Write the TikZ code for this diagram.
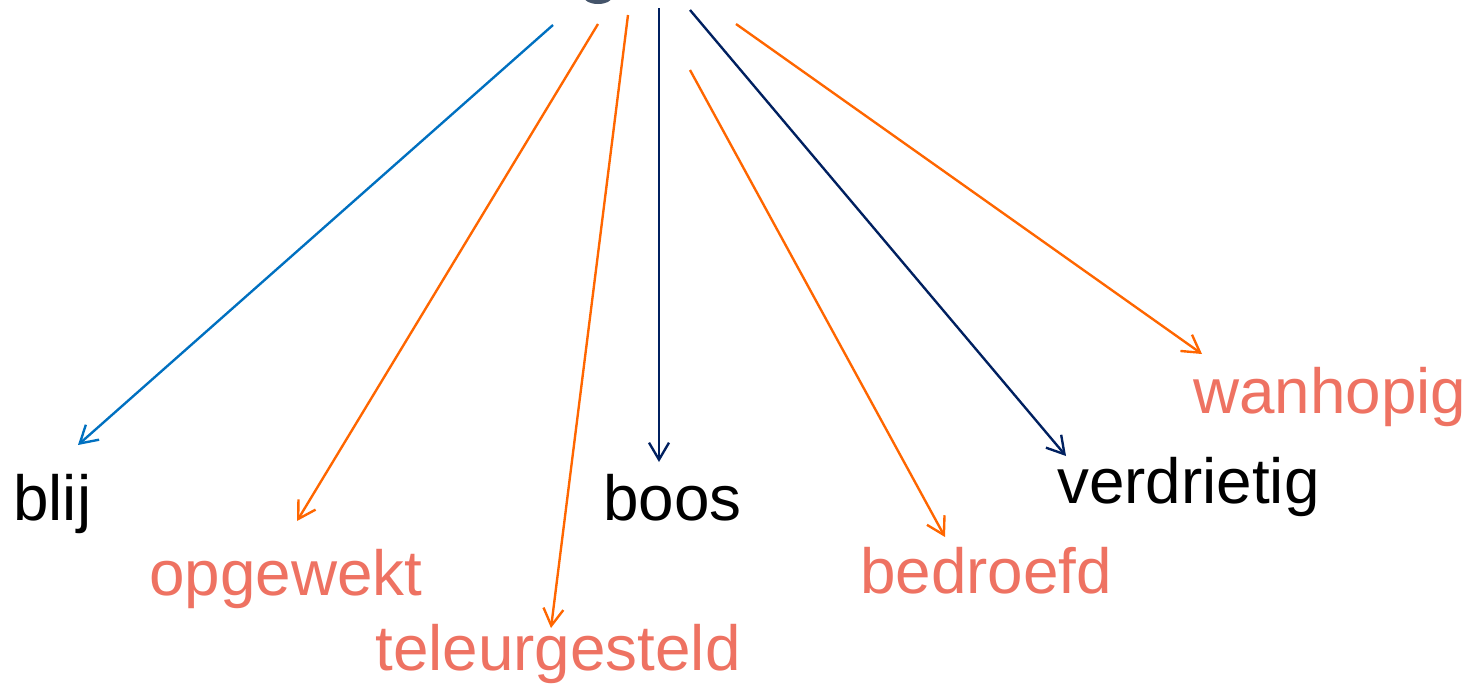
\documentclass[tikz,border=0pt]{standalone}
\usepackage{fontspec}
\setmainfont{Liberation Sans}
\usetikzlibrary{arrows.meta}

\definecolor{lineblue}{HTML}{0070C0}
\definecolor{linenavy}{HTML}{002060}
\definecolor{lineorange}{HTML}{FF6600}
\definecolor{wordsalmon}{HTML}{EE7262}
\definecolor{topslate}{HTML}{44546A}

\tikzset{
  word/.style={anchor=base west, inner sep=0pt, font=\fontsize{36.3}{40}\selectfont},
  plain/.style={word, text=black},
  soft/.style={word, text=wordsalmon},
  feel/.style={line width=1.35pt, -{Straight Barb[length=3.4mm, width=4mm, line width=1.35pt]}},
}

\begin{document}
\begin{tikzpicture}[x=0.02cm, y=-0.02cm]
      \useasboundingbox (0,0) rectangle (1474,683);

      % bit of the word above, cut off by the page
      \fill[topslate] (598,-3) ellipse (14 and 7);

      % the words
      \node[plain] (blij) at (13,520) {blij};
      \node[soft] (opgewekt) at (149,595) {opgewekt};
      \node[soft] (teleurgesteld) at (375,670) {teleurgesteld};
      \node[plain] (boos) at (603,520) {boos};
      \node[soft] (bedroefd) at (860,593) {bedroefd};
      \node[plain] (verdrietig) at (1057,503) {verdrietig};
      \node[soft] (wanhopig) at (1193,413) {wanhopig};

      % where the arrows start and end
      \coordinate (s-blij) at (553,25);
      \coordinate (s-opgewekt) at (598,24);
      \coordinate (s-teleurgesteld) at (628,15);
      \coordinate (s-boos) at (659,8);
      \coordinate (s-bedroefd) at (690,70);
      \coordinate (s-verdrietig) at (690,10);
      \coordinate (s-wanhopig) at (736,24);

      \coordinate (t-blij) at (78,445);
      \coordinate (t-opgewekt) at (297,521);
      \coordinate (t-teleurgesteld) at (551,628);
      \coordinate (t-boos) at (659,462);
      \coordinate (t-bedroefd) at (945,537);
      \coordinate (t-verdrietig) at (1066,456);
      \coordinate (t-wanhopig) at (1202,354);

      \draw[feel, lineblue] (s-blij) -- (t-blij);
      \draw[feel, lineorange] (s-opgewekt) -- (t-opgewekt);
      \draw[feel, lineorange] (s-teleurgesteld) -- (t-teleurgesteld);
      \draw[feel, linenavy] (s-boos) -- (t-boos);
      \draw[feel, lineorange] (s-bedroefd) -- (t-bedroefd);
      \draw[feel, linenavy] (s-verdrietig) -- (t-verdrietig);
      \draw[feel, lineorange] (s-wanhopig) -- (t-wanhopig);

\end{tikzpicture}
\end{document}
